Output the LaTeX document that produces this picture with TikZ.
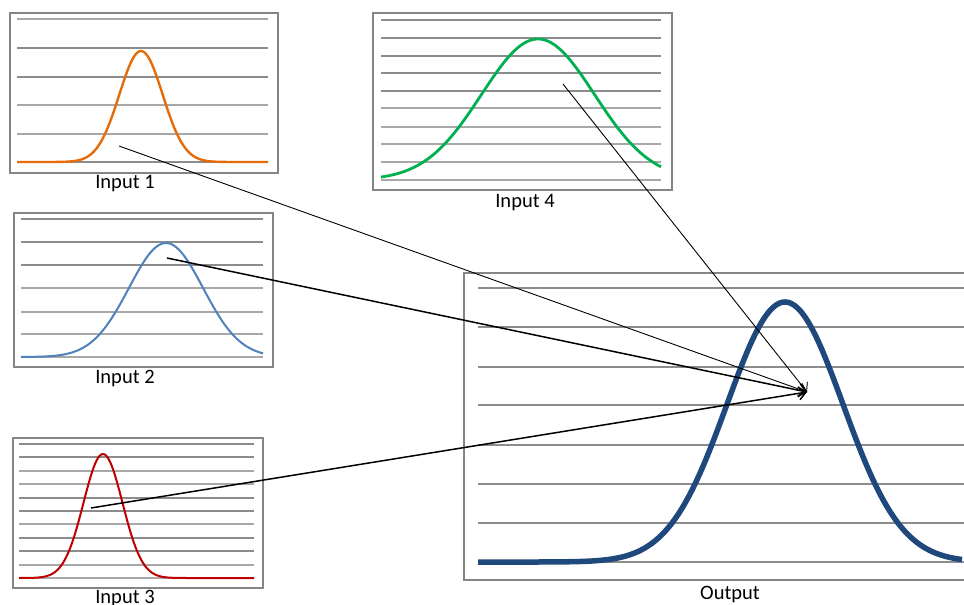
\documentclass[tikz,border=0pt]{standalone}
\usepackage{fontspec}
\setmainfont{Carlito}
\usetikzlibrary{arrows.meta}
\definecolor{gridthick}{HTML}{8C8C8C}
\definecolor{gridthin}{HTML}{A8A8A8}
\definecolor{frame}{HTML}{858585}
\definecolor{corange}{HTML}{E46C0A}
\definecolor{cblue}{HTML}{4F81BD}
\definecolor{cred}{HTML}{C00000}
\definecolor{cgreen}{HTML}{00B050}
\definecolor{cnavy}{HTML}{1F497D}
\begin{document}
\begin{tikzpicture}[x=1pt,y=-1pt,
  panel/.style={draw=frame, line width=1.8pt, anchor=north west, inner sep=0pt},
  gk/.style={draw=gridthick, line width=1.8pt},
  gt/.style={draw=gridthin, line width=1.2pt},
  lbl/.style={font=\fontsize{20.5}{24}\selectfont, inner sep=0pt},
  arr/.style={-{Straight Barb[length=7pt,width=13pt]}, black},
]
\useasboundingbox (0,0) rectangle (964,605);
\fill[white] (0,0) rectangle (964,605);

% ---------- Panel 1 ----------
\node[panel, minimum width=268pt, minimum height=160pt] (p1) at (9,12) {};
\foreach \y in {19,105,134} \draw[gt] (17,\y) -- (268,\y);
\foreach \y in {48,77,162} \draw[gk] (17,\y) -- (268,\y);
\draw[corange, line width=2.4pt, line join=round] plot[domain=17:268, samples=120, smooth]
  (\x, {162-111*exp(-0.5*((\x-141)/21.7)^2)});
\node[lbl] (l1) at (125,184) {Input 1};

% ---------- Panel 2 ----------
\node[panel, minimum width=259pt, minimum height=154pt] (p2) at (13,212) {};
\foreach \y in {219,242,265} \draw[gk] (21,\y) -- (263,\y);
\foreach \y in {288,312,334,357} \draw[gt] (21,\y) -- (263,\y);
\draw[cblue, line width=2pt, line join=round] plot[domain=21:263, samples=120, smooth]
  (\x, {357-114*exp(-0.5*((\x-166)/37)^2)});
\node[lbl] (l2) at (125,378) {Input 2};

% ---------- Panel 3 ----------
\node[panel, minimum width=250pt, minimum height=150pt] (p3) at (12,437) {};
\foreach \y in {444,457,498,511,538,551} \draw[gk] (19,\y) -- (254,\y);
\foreach \y in {471,484,524,565,578} \draw[gt] (19,\y) -- (254,\y);
\draw[cred, line width=2pt, line join=round] plot[domain=19:254, samples=140, smooth]
  (\x, {578-124*exp(-0.5*((\x-103)/19.5)^2)});
\node[lbl] (l3) at (125,598) {Input 3};

% ---------- Panel 4 ----------
\node[panel, minimum width=299pt, minimum height=177pt] (p4) at (372,12) {};
\foreach \y in {20,38,56,73,91} \draw[gk] (381,\y) -- (661,\y);
\foreach \y in {108,127,144,162,180} \draw[gt] (381,\y) -- (661,\y);
\draw[cgreen, line width=2.8pt, line join=round] plot[domain=381:661, samples=120, smooth]
  (\x, {180-141*exp(-0.5*((\x-538)/56.5)^2)});
\node[lbl] (l4) at (525,203) {Input 4};

% ---------- Output ----------
\node[panel, minimum width=510pt, minimum height=307pt] (out) at (463,272) {};
\foreach \y in {288,327,367,405,445,484,523,562} \draw[gk] (478,\y) -- (966,\y);
\draw[cnavy, line width=5.5pt, line join=round] plot[domain=478:962, samples=160, smooth]
  (\x, {562-260*exp(-0.5*((\x-785)/58)^2)});
\node[lbl] (lo) at (730,594) {Output};

% ---------- Arrows ----------
\coordinate (s1) at (119,146);
\coordinate (s2) at (167,258);
\coordinate (s3) at (91,508);
\coordinate (s4) at (563,84);
\coordinate (t) at (807,392);
\draw[arr, line width=0.9pt] (s1) -- (t);
\draw[arr, line width=1.5pt] (s2) -- (t);
\draw[arr, line width=1.5pt] (s3) -- (t);
\draw[arr, line width=0.9pt] (s4) -- (t);
\end{tikzpicture}
\end{document}
